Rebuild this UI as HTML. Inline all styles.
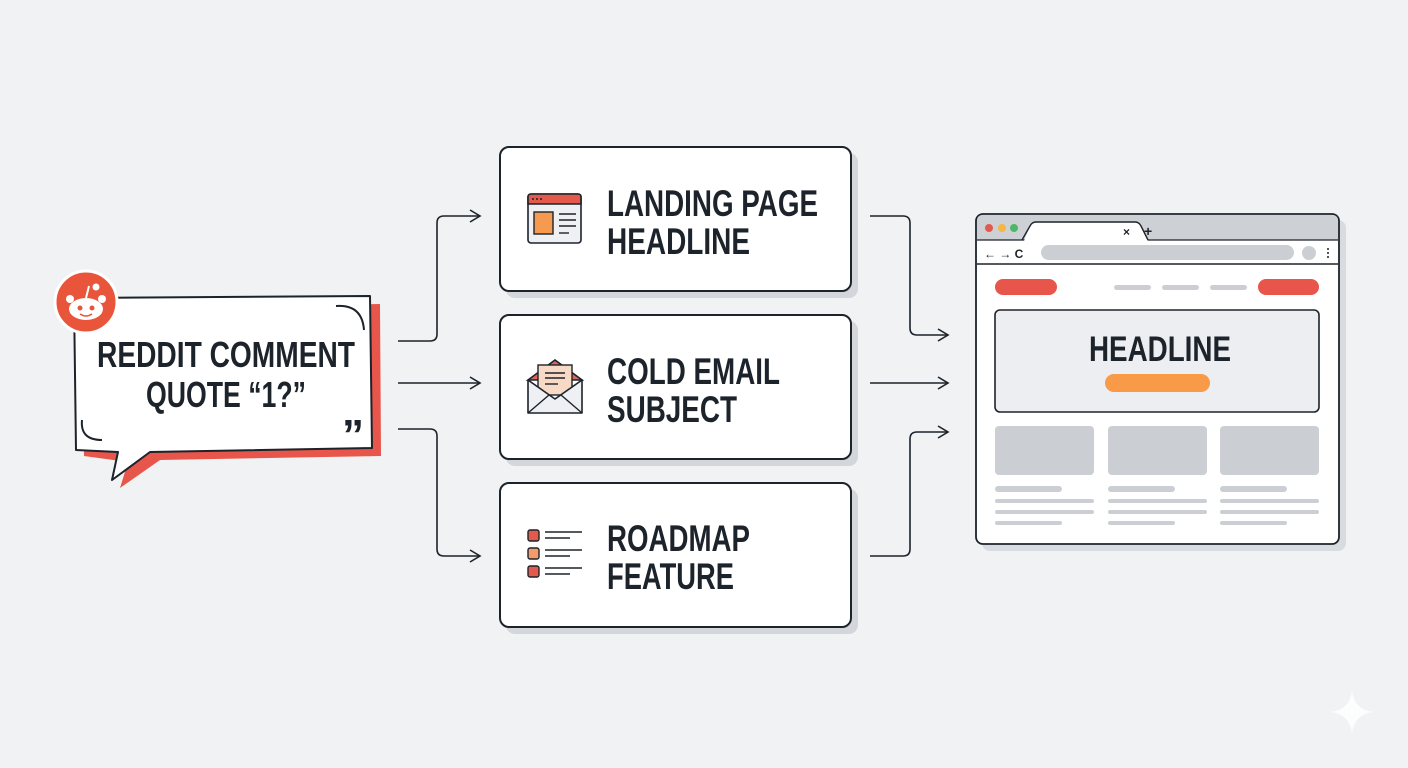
<!DOCTYPE html>
<html><head><meta charset="utf-8"><style>
html,body{margin:0;padding:0;background:#f0f2f4;}
svg{display:block}
text{font-family:"Liberation Sans Narrow","Liberation Sans",sans-serif;font-weight:bold;fill:#1c232b}
</style></head><body>
<svg width="1408" height="768" viewBox="0 0 1408 768" xmlns="http://www.w3.org/2000/svg">
<rect width="1408" height="768" fill="#f0f2f4"/>
<defs>
<marker id="ah" markerWidth="14" markerHeight="14" refX="12" refY="7" orient="auto" markerUnits="userSpaceOnUse">
<path d="M2,1 L12,7 L2,13" fill="none" stroke="#1c232b" stroke-width="1.6"/>
</marker>
</defs>
<!-- bubble -->
<path d="M84,310 L380,304 L381,456 L160,460 L120,488 L128,462 L84,456 Z" fill="#e8554a"/>
<path d="M74,298 L370,296 L372,448 L150,452 L112,480 L118,452 L76,450 Z" fill="#fff" stroke="#1c232b" stroke-width="2" stroke-linejoin="round"/>
<path d="M336,306 Q362,304 364,330" fill="none" stroke="#1c232b" stroke-width="2"/>
<path d="M82,420 Q80,440 102,440" fill="none" stroke="#1c232b" stroke-width="2"/>
<text x="342" y="450" font-size="44" font-family="Liberation Serif">”</text>
<text x="226" y="367" font-size="36" text-anchor="middle" textLength="258" lengthAdjust="spacingAndGlyphs">REDDIT COMMENT</text>
<text x="226" y="407" font-size="36" text-anchor="middle" textLength="160" lengthAdjust="spacingAndGlyphs">QUOTE “1?”</text>
<circle cx="86" cy="302" r="31" fill="#e8553a" stroke="#fff" stroke-width="3"/>
<ellipse cx="86" cy="309" rx="17" ry="11" fill="#fff"/>
<circle cx="70" cy="299" r="4" fill="#fff"/><circle cx="102" cy="299" r="4" fill="#fff"/>
<line x1="86" y1="298" x2="89" y2="286" stroke="#fff" stroke-width="2"/><circle cx="96" cy="287" r="3.5" fill="#fff"/>
<circle cx="80" cy="308" r="2.5" fill="#e8553a"/><circle cx="92" cy="308" r="2.5" fill="#e8553a"/>
<path d="M80,314 Q86,318 92,314" fill="none" stroke="#e8553a" stroke-width="1.5"/>
<!-- connectors -->
<g fill="none" stroke="#1c232b" stroke-width="1.6">
<path d="M398,341 H430 Q437,341 437,334 V223 Q437,216 444,216 H480" marker-end="url(#ah)"/>
<path d="M398,383 H480" marker-end="url(#ah)"/>
<path d="M398,429 H430 Q437,429 437,436 V549 Q437,556 444,556 H480" marker-end="url(#ah)"/>
<path d="M870,216 H903 Q910,216 910,223 V328 Q910,335 917,335 H948" marker-end="url(#ah)"/>
<path d="M870,383 H948" marker-end="url(#ah)"/>
<path d="M870,556 H903 Q910,556 910,549 V439 Q910,432 917,432 H948" marker-end="url(#ah)"/>
</g>
<!-- boxes -->
<g>
<rect x="506" y="153" width="352" height="145" rx="9" fill="#d3d6da"/>
<rect x="500" y="147" width="351" height="144" rx="9" fill="#fff" stroke="#1c232b" stroke-width="2"/>
<rect x="506" y="321" width="352" height="145" rx="9" fill="#d3d6da"/>
<rect x="500" y="315" width="351" height="144" rx="9" fill="#fff" stroke="#1c232b" stroke-width="2"/>
<rect x="506" y="489" width="352" height="145" rx="9" fill="#d3d6da"/>
<rect x="500" y="483" width="351" height="144" rx="9" fill="#fff" stroke="#1c232b" stroke-width="2"/>
</g>
<text x="607" y="216" font-size="37" textLength="211" lengthAdjust="spacingAndGlyphs">LANDING PAGE</text>
<text x="607" y="254" font-size="37" textLength="143" lengthAdjust="spacingAndGlyphs">HEADLINE</text>
<text x="607" y="384" font-size="37" textLength="173" lengthAdjust="spacingAndGlyphs">COLD EMAIL</text>
<text x="607" y="422" font-size="37" textLength="130" lengthAdjust="spacingAndGlyphs">SUBJECT</text>
<text x="607" y="551" font-size="37" textLength="143" lengthAdjust="spacingAndGlyphs">ROADMAP</text>
<text x="607" y="589" font-size="37" textLength="127" lengthAdjust="spacingAndGlyphs">FEATURE</text>
<!-- icon1 -->
<rect x="528" y="194" width="53" height="49" rx="3" fill="#eef0f3" stroke="#1c232b" stroke-width="1.6"/>
<path d="M528,204 V197 Q528,194 531,194 H578 Q581,194 581,197 V204 Z" fill="#e35a4c" stroke="#1c232b" stroke-width="1.6"/>
<circle cx="533" cy="199" r="1" fill="#1c232b"/><circle cx="537" cy="199" r="1" fill="#1c232b"/><circle cx="541" cy="199" r="1" fill="#1c232b"/>
<rect x="534" y="212" width="19" height="22" fill="#f59a4e" stroke="#1c232b" stroke-width="1.4"/>
<g stroke="#1c232b" stroke-width="1.4"><line x1="559" y1="214" x2="576" y2="214"/><line x1="559" y1="220" x2="576" y2="220"/><line x1="559" y1="226" x2="576" y2="226"/><line x1="559" y1="233" x2="569" y2="233"/></g>
<!-- icon2 -->
<path d="M528,380 L555,360 L582,380 Z" fill="#d9675a" stroke="#1c232b" stroke-width="1.6"/>
<rect x="538" y="365" width="34" height="30" fill="#f8d9c6" stroke="#1c232b" stroke-width="1.4"/>
<g stroke="#1c232b" stroke-width="1.4"><line x1="545" y1="373" x2="565" y2="373"/><line x1="545" y1="378" x2="565" y2="378"/><line x1="545" y1="384" x2="558" y2="384"/></g>
<path d="M528,380 L555,399 L582,380 V413 H528 Z" fill="#eef0f3" stroke="#1c232b" stroke-width="1.6" stroke-linejoin="round"/>
<path d="M528,413 L549,395 M582,413 L561,395" stroke="#1c232b" stroke-width="1.4"/>
<!-- icon3 -->
<g stroke="#1c232b" stroke-width="1.4">
<rect x="528" y="530" width="11" height="11" rx="2" fill="#e35a4c"/>
<rect x="528" y="548" width="11" height="11" rx="2" fill="#f59a6a"/>
<rect x="528" y="566" width="11" height="11" rx="2" fill="#e35a4c"/>
<line x1="545" y1="532" x2="582" y2="532"/><line x1="545" y1="538" x2="570" y2="538"/>
<line x1="545" y1="550" x2="582" y2="550"/><line x1="545" y1="556" x2="570" y2="556"/>
<line x1="545" y1="568" x2="582" y2="568"/><line x1="545" y1="574" x2="570" y2="574"/>
</g>
<!-- browser -->
<rect x="982" y="220" width="364" height="331" rx="8" fill="#d8dbdf"/>
<rect x="976" y="214" width="363" height="330" rx="7" fill="#fff" stroke="#1c232b" stroke-width="1.8"/>
<path d="M977,240 V221 Q977,215 983,215 H1332 Q1338,215 1338,221 V240 Z" fill="#cdd1d6"/>
<line x1="977" y1="240" x2="1338" y2="240" stroke="#1c232b" stroke-width="1.2"/>
<path d="M1024,241 L1030,226 Q1032,222 1036,222 H1135 Q1139,222 1141,226 L1148,241 Z" fill="#fff"/>
<path d="M1022,240 L1030,226 Q1032,222 1036,222 H1135 Q1139,222 1141,226 L1148,240" fill="none" stroke="#1c232b" stroke-width="1.4"/>
<circle cx="989" cy="228" r="4" fill="#e35a4c"/><circle cx="1002" cy="228" r="4" fill="#f5b642"/><circle cx="1014" cy="228" r="4" fill="#4cb865"/>
<text x="1123" y="236" font-size="12" font-family="Liberation Sans" font-weight="normal">×</text>
<text x="1144" y="236" font-size="14" font-family="Liberation Sans" font-weight="normal">+</text>
<line x1="977" y1="264" x2="1338" y2="264" stroke="#1c232b" stroke-width="1.4"/>
<text x="984" y="258" font-size="12" font-family="Liberation Sans" font-weight="normal">←  →  C</text>
<rect x="1041" y="245" width="253" height="15" rx="7.5" fill="#cbcfd4"/>
<circle cx="1309" cy="253" r="7" fill="#cbcfd4"/>
<g fill="#1c232b"><circle cx="1328" cy="249" r="1"/><circle cx="1328" cy="253" r="1"/><circle cx="1328" cy="257" r="1"/></g>
<rect x="995" y="279" width="62" height="16" rx="8" fill="#e8554a"/>
<rect x="1258" y="279" width="61" height="16" rx="8" fill="#e8554a"/>
<rect x="1114" y="285" width="37" height="5" rx="2.5" fill="#cbcfd4"/>
<rect x="1162" y="285" width="37" height="5" rx="2.5" fill="#cbcfd4"/>
<rect x="1210" y="285" width="37" height="5" rx="2.5" fill="#cbcfd4"/>
<rect x="995" y="310" width="324" height="102" rx="5" fill="#eceef1" stroke="#1c232b" stroke-width="1.6"/>
<text x="1160" y="361" font-size="35" text-anchor="middle" textLength="142" lengthAdjust="spacingAndGlyphs">HEADLINE</text>
<rect x="1105" y="374" width="105" height="18" rx="9" fill="#f99a48"/>
<g fill="#cbcfd4">
<rect x="995" y="426" width="99" height="49" rx="4"/><rect x="1108" y="426" width="99" height="49" rx="4"/><rect x="1220" y="426" width="99" height="49" rx="4"/>
<rect x="995" y="486" width="67" height="6" rx="3"/><rect x="1108" y="486" width="67" height="6" rx="3"/><rect x="1220" y="486" width="67" height="6" rx="3"/>
<rect x="995" y="499" width="99" height="4" rx="2"/><rect x="1108" y="499" width="99" height="4" rx="2"/><rect x="1220" y="499" width="99" height="4" rx="2"/>
<rect x="995" y="510" width="99" height="4" rx="2"/><rect x="1108" y="510" width="99" height="4" rx="2"/><rect x="1220" y="510" width="99" height="4" rx="2"/>
<rect x="995" y="521" width="67" height="4" rx="2"/><rect x="1108" y="521" width="67" height="4" rx="2"/><rect x="1220" y="521" width="67" height="4" rx="2"/>
</g>
<path d="M1352,690 Q1354,710 1374,712 Q1354,714 1352,734 Q1350,714 1330,712 Q1350,710 1352,690 Z" fill="#fff" opacity="0.8"/>
</svg>
</body></html>
